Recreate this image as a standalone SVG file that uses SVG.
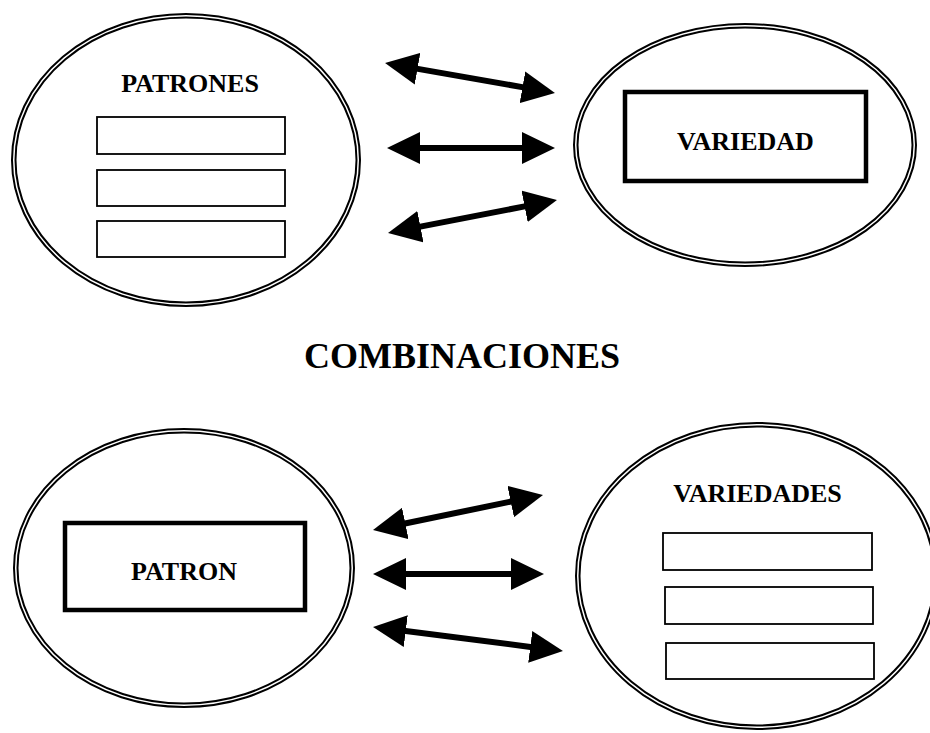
<svg xmlns="http://www.w3.org/2000/svg" width="930" height="733" viewBox="0 0 930 733">
<style>
.oval{fill:none;stroke:#000;stroke-width:2}
.box{fill:#fff;stroke:#000;stroke-width:1.8}
.bold{fill:#fff;stroke:#000;stroke-width:4.5}
.lbl{font-family:"Liberation Serif","Times New Roman",serif;font-weight:bold;font-size:26px;text-anchor:middle;fill:#000}
.title{font-family:"Liberation Serif","Times New Roman",serif;font-weight:bold;font-size:36px;text-anchor:middle;fill:#000}
.arr{stroke:#000;stroke-width:6;fill:none;marker-start:url(#head);marker-end:url(#head)}
</style>
<defs>
<marker id="head" markerUnits="userSpaceOnUse" markerWidth="33" markerHeight="32" refX="4" refY="16" orient="auto-start-reverse">
<path d="M0,0 L33,16 L0,32 z" fill="#000"/>
</marker>
</defs>
<rect width="930" height="733" fill="#fff"/>
<g id="patrones">
<ellipse class="oval" cx="186" cy="160" rx="174" ry="146"/>
<ellipse class="oval" cx="186" cy="160" rx="170.5" ry="142.5"/>
<text class="lbl" x="190" y="92">PATRONES</text>
<rect class="box" x="97" y="117" width="188" height="37"/>
<rect class="box" x="97" y="170" width="188" height="36"/>
<rect class="box" x="97" y="221" width="188" height="36"/>
</g>
<g id="variedad">
<ellipse class="oval" cx="745" cy="145" rx="171" ry="121"/>
<ellipse class="oval" cx="745" cy="145" rx="167.5" ry="117.5"/>
<rect class="bold" x="625" y="92" width="241" height="89"/>
<text class="lbl" x="745.5" y="150">VARIEDAD</text>
</g>
<g id="title">
<text class="title" x="462" y="368">COMBINACIONES</text>
</g>
<g id="patron">
<ellipse class="oval" cx="184" cy="568" rx="170" ry="139"/>
<ellipse class="oval" cx="184" cy="568" rx="166.5" ry="135.5"/>
<rect class="bold" x="65" y="523" width="240" height="87"/>
<text class="lbl" x="184" y="580">PATRON</text>
</g>
<g id="variedades">
<ellipse class="oval" cx="757" cy="576" rx="181" ry="153"/>
<ellipse class="oval" cx="757" cy="576" rx="177.5" ry="149.5"/>
<text class="lbl" x="757.5" y="502">VARIEDADES</text>
<rect class="box" x="663" y="533" width="209" height="37"/>
<rect class="box" x="665" y="587" width="208" height="37"/>
<rect class="box" x="666" y="643" width="208" height="36"/>
</g>
<g id="connectors">
<line class="arr" x1="413.6" y1="68.1" x2="526.4" y2="87.9"/>
<line class="arr" x1="416" y1="148" x2="526" y2="148"/>
<line class="arr" x1="416.5" y1="227.4" x2="528.5" y2="205.6"/>
<line class="arr" x1="401.4" y1="524.2" x2="514.6" y2="500.8"/>
<line class="arr" x1="402" y1="574" x2="515" y2="574"/>
<line class="arr" x1="401.8" y1="630.6" x2="534.2" y2="647.4"/>
</g>
</svg>
